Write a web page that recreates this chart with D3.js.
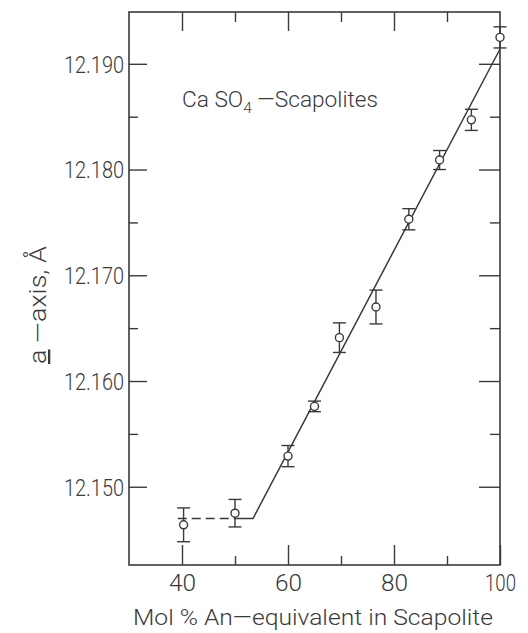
<!DOCTYPE html>
<html>
<head>
<meta charset="utf-8">
<script src="https://cdn.jsdelivr.net/npm/d3@7"></script>
<style>
  body { margin: 0; background: #fff; }
  svg text { font-family: "Roboto", "DejaVu Sans", sans-serif; font-weight: 300; fill: #3a3a3a; }
</style>
</head>
<body>
<svg id="chart" width="528" height="633"></svg>
<script>
// 数据: 钙長石当量 (Mol %) 與 a 轴長度
const anPct = [40.3, 50, 60, 65, 69.7, 76.6, 82.8, 88.6, 94.6, 100]
const aAxis = [12.1464, 12.1475, 12.1529, 12.1576, 12.1641, 12.1670, 12.1753, 12.1809, 12.1847, 12.1925]
const errBar = [0.0016, 0.0013, 0.0010, 0.0005, 0.0014, 0.0016, 0.0010, 0.0009, 0.0010, 0.0010]

// 拟合線: 水平段 (虚線部分) + 斜線
const fitDashed = [[39.2, 12.1470], [50.3, 12.1470]]
const fitSolid = [[50.3, 12.1470], [53.4, 12.1470], [100, 12.1914]]

// 刻度
const xMajor = [40, 60, 80, 100]
const xMinor = [50, 70, 90]
const yMajor = [12.15, 12.16, 12.17, 12.18, 12.19]
const yMinor = [12.155, 12.165, 12.175, 12.185]

const svg = d3.select('#chart')
const ink = '#3a3a3a'

const x = d3.scaleLinear().domain([30, 100]).range([129, 500])
const y = d3.scaleLinear().domain([12.1426, 12.1949]).range([565, 12])

// 坐标轴 (刻度向内)
function drawAxis (axis, tr, size, values, labels) {
    const g = svg.append('g')
        .attr('transform', tr)
        .call(axis.tickValues(values).tickSize(size).tickPadding(labels ? 5 : 0)
            .tickFormat(labels ? labels : () => ''))
    g.select('.domain').remove()
    g.selectAll('line').attr('stroke', ink).attr('stroke-width', 1.4)
    return g
}

// 左
const gl = drawAxis(d3.axisLeft(y), `translate(${x(30)},0)`, -18, yMajor, d3.format('.3f'))
gl.selectAll('text').attr('font-size', 23).attr('fill', ink).style('font-family', null)
    .attr('textLength', 60).attr('lengthAdjust', 'spacingAndGlyphs').attr('dy', '0.36em')
drawAxis(d3.axisLeft(y), `translate(${x(30)},0)`, -9, yMinor)
// 右
drawAxis(d3.axisRight(y), `translate(${x(100)},0)`, -21, yMajor)
drawAxis(d3.axisRight(y), `translate(${x(100)},0)`, -10, yMinor)
// 上
drawAxis(d3.axisTop(x), `translate(0,${y.range()[1]})`, -19, xMajor.slice(0, 3))
drawAxis(d3.axisTop(x), `translate(0,${y.range()[1]})`, -10, xMinor)
// 下
const gb = drawAxis(d3.axisBottom(x), `translate(0,${y.range()[0]})`, -20, xMajor, d3.format('d'))
gb.selectAll('text').attr('font-size', 24).attr('fill', ink).style('font-family', null)
    .attr('y', 26).attr('dy', null)
    .attr('textLength', (d) => (d === 100 ? 31 : 27)).attr('lengthAdjust', 'spacingAndGlyphs')
drawAxis(d3.axisBottom(x), `translate(0,${y.range()[0]})`, -9, xMinor)

// 边框
svg.append('rect')
    .attr('x', x(30)).attr('y', y.range()[1])
    .attr('width', x(100) - x(30)).attr('height', y.range()[0] - y.range()[1])
    .attr('fill', 'none').attr('stroke', ink).attr('stroke-width', 1.6)

// 拟合線
const line = d3.line().x((d) => x(d[0])).y((d) => y(d[1]))
svg.append('path').attr('d', line(fitDashed))
    .attr('fill', 'none').attr('stroke', ink).attr('stroke-width', 1.5)
    .attr('stroke-dasharray', '9,5')
svg.append('path').attr('d', line(fitSolid))
    .attr('fill', 'none').attr('stroke', ink).attr('stroke-width', 1.5)

// 误差棒與数据点
const pts = svg.append('g').selectAll('g')
    .data(anPct.map((v, i) => ({ x: v, y: aAxis[i], e: errBar[i] })))
    .enter().append('g')
pts.append('line')
    .attr('x1', (d) => x(d.x)).attr('x2', (d) => x(d.x))
    .attr('y1', (d) => y(d.y - d.e)).attr('y2', (d) => y(d.y + d.e))
    .attr('stroke', ink).attr('stroke-width', 1.4)
pts.selectAll('.cap').data((d) => [d.y - d.e, d.y + d.e].map((v) => ({ x: d.x, v })))
    .enter().append('line')
    .attr('x1', (d) => x(d.x) - 6.5).attr('x2', (d) => x(d.x) + 6.5)
    .attr('y1', (d) => y(d.v)).attr('y2', (d) => y(d.v))
    .attr('stroke', ink).attr('stroke-width', 1.4)
pts.append('circle')
    .attr('cx', (d) => x(d.x)).attr('cy', (d) => y(d.y)).attr('r', 4)
    .attr('fill', '#fff').attr('stroke', ink).attr('stroke-width', 1.4)

// 图内标题
const title = svg.append('text').attr('x', 182).attr('y', 107).attr('font-size', 22)
    .attr('textLength', 196).attr('lengthAdjust', 'spacingAndGlyphs')
title.append('tspan').text('Ca SO')
title.append('tspan').attr('font-size', 15).attr('dy', 6).text('4')
title.append('tspan').attr('dy', -6).text(' \u2014Scapolites')

// x 轴标题
svg.append('text').attr('x', 313).attr('y', 625).attr('font-size', 22)
    .attr('text-anchor', 'middle')
    .attr('textLength', 360).attr('lengthAdjust', 'spacingAndGlyphs')
    .text('Mol % An\u2014equivalent in Scapolite')

// y 轴标题
const yt = svg.append('text')
    .attr('transform', 'translate(46,305) rotate(-90)')
    .attr('font-size', 23).attr('text-anchor', 'middle')
    .attr('textLength', 118).attr('lengthAdjust', 'spacingAndGlyphs')
yt.append('tspan').style('text-decoration', 'underline').text('a')
yt.append('tspan').text(' \u2014axis, \u00c5')
</script>
</body>
</html>
